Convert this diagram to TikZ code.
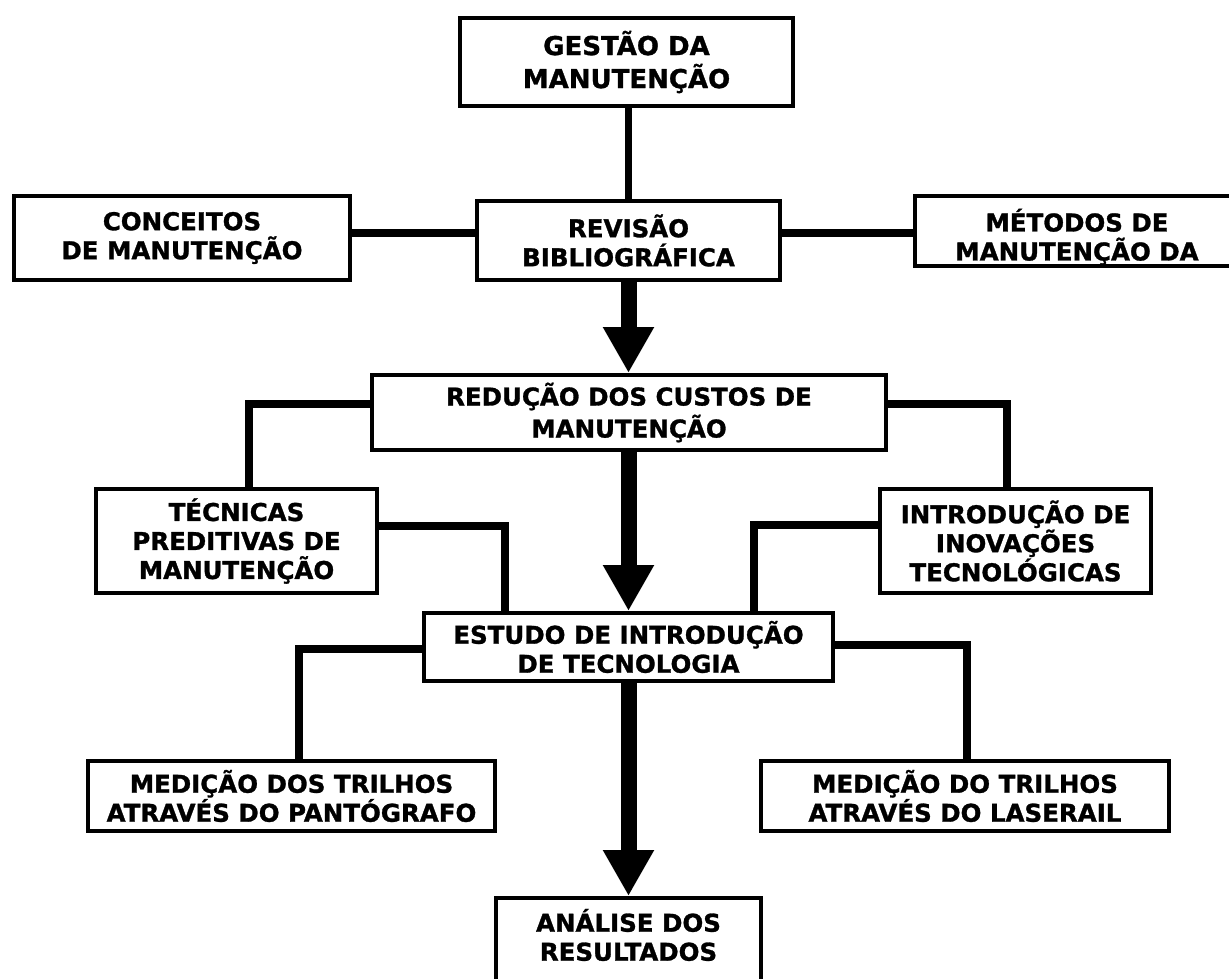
\documentclass[tikz,border=0pt]{standalone}
\usepackage{fontspec}
\setmainfont{DejaVu Sans}[BoldFeatures={FakeBold=1.2}]
\usetikzlibrary{arrows.meta,calc}
\begin{document}
\begin{tikzpicture}[x=1pt,y=-1pt,
  boxfont/.style={font=\fontsize{24.5}{29}\selectfont\bfseries},
  box/.style={draw, line width=4pt, fill=white, align=center, inner sep=0pt, boxfont},
  boxlabel/.style={align=center, inner sep=0pt, boxfont},
  link/.style={line width=7.5pt, line join=miter},
  bigarrow/.style={line width=16pt, -{Triangle[width=48pt,length=46pt]}}]
\fill[white, use as bounding box] (0,0) rectangle (1229,978);
\clip (0,0) rectangle (1229,978);

\node[box, minimum width=333pt, minimum height=88pt, font=\fontsize{26}{33}\selectfont\bfseries] (gestao) at (626.5,62) {GESTÃO DA\\MANUTENÇÃO};
\node[box, minimum width=336pt, minimum height=84pt] (conceitos) at (182,238) {CONCEITOS\\DE MANUTENÇÃO};
\node[box, minimum width=303pt, minimum height=79pt] (revisao) at (628.5,240.5) {REVISÃO\\BIBLIOGRÁFICA};
\node[box, minimum width=324pt, minimum height=70pt,
  label={[boxlabel, yshift=-6pt]center:MÉTODOS DE\\MANUTENÇÃO DA}] (metodos) at (1077,231) {};
\node[box, minimum width=514pt, minimum height=75pt, font=\fontsize{24.5}{32}\selectfont\bfseries] (reducao) at (629,412.5) {REDUÇÃO DOS CUSTOS DE\\MANUTENÇÃO};
\node[box, minimum width=281pt, minimum height=104pt] (tecnicas) at (236.5,541) {TÉCNICAS\\PREDITIVAS DE\\MANUTENÇÃO};
\node[box, minimum width=271pt, minimum height=104pt] (introducao) at (1015.5,541) {INTRODUÇÃO DE\\INOVAÇÕES\\TECNOLÓGICAS};
\node[box, minimum width=409pt, minimum height=68pt] (estudo) at (628.5,647) {ESTUDO DE INTRODUÇÃO\\DE TECNOLOGIA};
\node[box, minimum width=407pt, minimum height=70pt] (medpant) at (291.5,796) {MEDIÇÃO DOS TRILHOS\\ATRAVÉS DO PANTÓGRAFO};
\node[box, minimum width=408pt, minimum height=70pt] (medlaser) at (965,796) {MEDIÇÃO DO TRILHOS\\ATRAVÉS DO LASERAIL};
\node[box, minimum width=265pt, minimum height=84pt,
  label={[boxlabel, yshift=5pt]center:ANÁLISE DOS\\RESULTADOS}] (analise) at (628.5,940) {};

\draw[link] (revisao.north) -- (revisao.north |- gestao.south);
\draw[link] ([yshift=7.5pt]revisao.west) -- ([yshift=7.5pt]revisao.west -| conceitos.east);
\draw[link] ([yshift=7.5pt]revisao.east) -- ([yshift=7.5pt]revisao.east -| metodos.west);

\draw[link] ([yshift=8.5pt]reducao.west) -| ([xshift=12.5pt]tecnicas.north);
\draw[link] ([yshift=8.5pt]reducao.east) -| ([xshift=-8.5pt]introducao.north);
\draw[link] ([yshift=15pt]tecnicas.east) -| ([xshift=-123.5pt]estudo.north);
\draw[link] ([yshift=16pt]introducao.west) -| ([xshift=125.5pt]estudo.north);
\draw[link] ([yshift=-2pt]estudo.west) -| ([xshift=7.5pt]medpant.north);
\draw[link] ([yshift=2pt]estudo.east) -| ([xshift=2pt]medlaser.north);

\draw[bigarrow] (revisao.south) -- (revisao.south |- reducao.north);
\draw[bigarrow] (estudo.north |- reducao.south) -- (estudo.north);
\draw[bigarrow] (estudo.south) -- (analise.north);
\end{tikzpicture}
\end{document}
